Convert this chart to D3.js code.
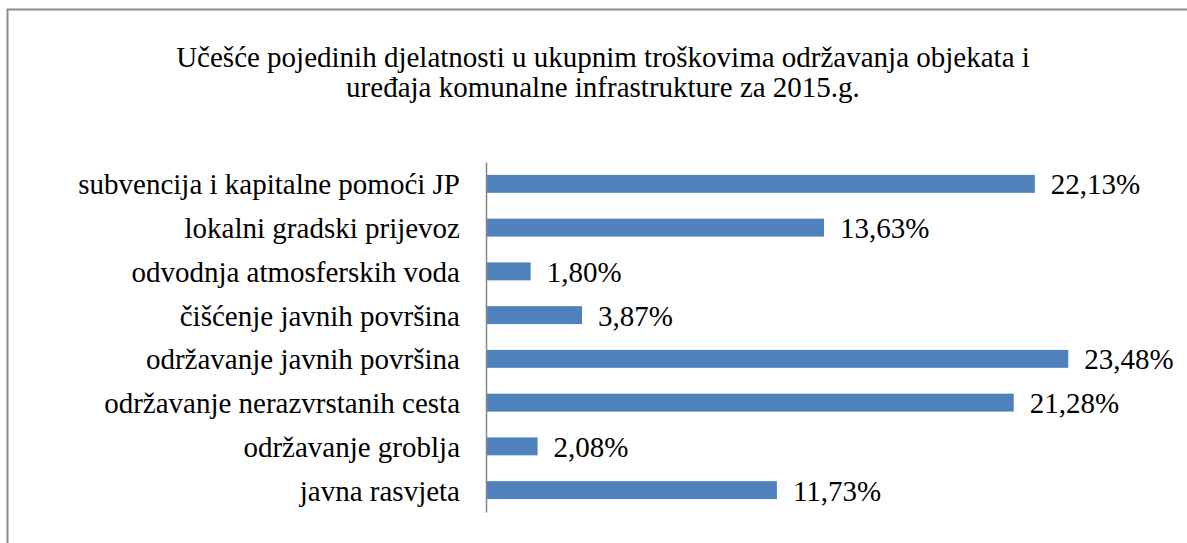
<!DOCTYPE html>
<html>
<head>
<meta charset="utf-8">
<script src="https://cdn.jsdelivr.net/npm/d3@7/dist/d3.min.js"></script>
</head>
<body style="margin:0;background:#fff">
<svg id="chart" width="1187" height="543" style="display:block"></svg>
<script>
const titleLines = [
  "Učešće pojedinih djelatnosti u ukupnim troškovima održavanja objekata i",
  "uređaja komunalne infrastrukture za 2015.g."
];
const categories = [
  "subvencija i kapitalne pomoći JP",
  "lokalni gradski prijevoz",
  "odvodnja atmosferskih voda",
  "čišćenje javnih površina",
  "održavanje javnih površina",
  "održavanje nerazvrstanih cesta",
  "održavanje groblja",
  "javna rasvjeta"
];
const values = [22.13, 13.63, 1.80, 3.87, 23.48, 21.28, 2.08, 11.73];
const valueLabels = ["22,13%", "13,63%", "1,80%", "3,87%", "23,48%", "21,28%", "2,08%", "11,73%"];
const xDomain = [0, 25];

const FONT = "Liberation Serif";
const svg = d3.select("#chart");

// chart frame (only top and left edges visible in the crop)
svg.append("path")
  .attr("d", "M7.5,543 V9.5 H1187")
  .attr("fill", "none")
  .attr("stroke", "#8c8c8c")
  .attr("stroke-width", 2);

// title
const title = svg.append("text")
  .attr("text-anchor", "middle")
  .style("font-family", FONT)
  .style("font-size", "29px");
titleLines.forEach((t, i) => {
  title.append("tspan")
    .attr("x", 603)
    .attr("y", 67 + i * 29.5)
    .text(t);
});

const x = d3.scaleLinear().domain(xDomain).range([486, 1106]);
const y = d3.scaleBand().domain(categories).range([162, 512])
  .paddingInner(0.59).paddingOuter(0.295);

const data = categories.map((c, i) => ({ c, v: values[i], label: valueLabels[i] }));

svg.append("g").selectAll("rect")
  .data(data)
  .join("rect")
  .attr("x", x(0))
  .attr("y", d => y(d.c))
  .attr("width", d => x(d.v) - x(0))
  .attr("height", y.bandwidth())
  .attr("fill", "#4f81bd");

// value labels
svg.append("g").selectAll("text")
  .data(data)
  .join("text")
  .style("font-family", FONT)
  .style("font-size", "29px")
  .attr("fill", "#000")
  .attr("x", d => x(d.v) + 16)
  .attr("y", d => y(d.c) + y.bandwidth() / 2)
  .attr("dy", "0.36em")
  .text(d => d.label);

// category axis
const yAxis = d3.axisLeft(y).tickSize(0).tickPadding(26);
const gAxis = svg.append("g")
  .attr("transform", `translate(${x(0)},0)`)
  .call(yAxis);
gAxis.select(".domain")
  .attr("stroke", "#868686")
  .attr("stroke-width", 1.5);
gAxis.selectAll(".tick text")
  .style("font-family", FONT)
  .style("font-size", "29px")
  .attr("dy", "0.36em")
  .attr("fill", "#000");
</script>
</body>
</html>
